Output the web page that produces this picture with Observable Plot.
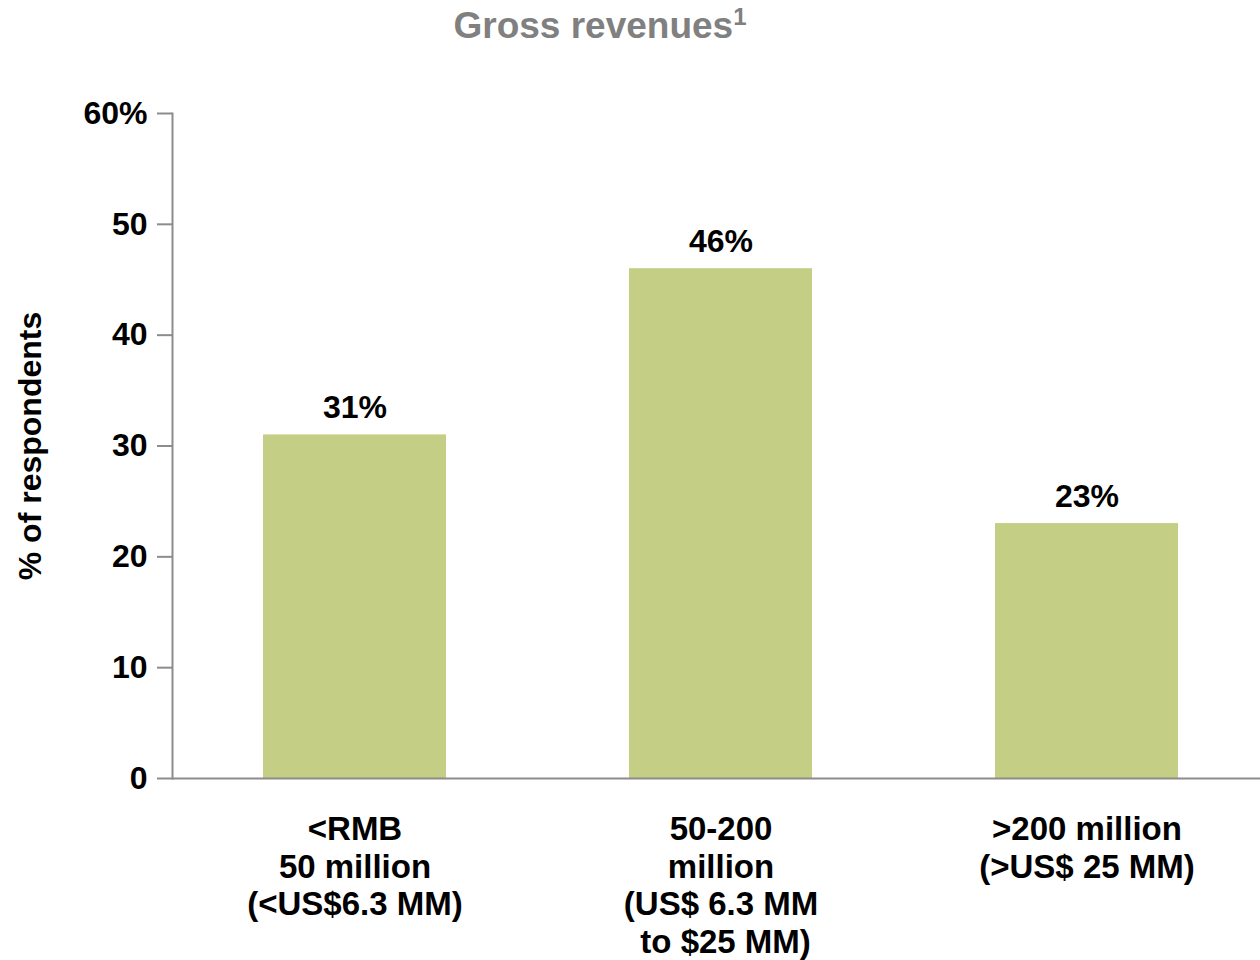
<!DOCTYPE html>
<html>
<head>
<meta charset="utf-8">
<script src="https://cdn.jsdelivr.net/npm/d3@7"></script>
<script src="https://cdn.jsdelivr.net/npm/@observablehq/plot@0.6"></script>
<style>
  html, body { margin: 0; padding: 0; background: #fff; }
  body { width: 1260px; height: 960px; overflow: hidden; font-family: "Liberation Sans", Arial, sans-serif; }
  #title { height: 60px; width: 1200px; text-align: center; font-weight: bold; font-size: 37px; color: #808080; line-height: 52px; }
  #title sup { font-size: 24px; vertical-align: 13px; line-height: 0; }
</style>
</head>
<body>
<div id="title">Gross revenues<sup>1</sup></div>
<div id="chart"></div>
<script>
const categories = [
  "<RMB\n50 million\n(<US$6.3 MM)",
  "50-200\nmillion\n(US$ 6.3 MM\n to $25 MM)",
  ">200 million\n(>US$ 25 MM)"
];
const values = [31, 46, 23];
const yTicks = [0, 10, 20, 30, 40, 50, 60];
const yTickLabels = ["0", "10", "20", "30", "40", "50", "60%"];
const valueLabels = ["31%", "46%", "23%"];

const data = categories.map((c, i) => ({cat: c, value: values[i], label: valueLabels[i]}));

const chart = Plot.plot({
  width: 1260,
  height: 900,
  marginTop: 53,
  marginBottom: 182,
  marginLeft: 172,
  marginRight: 0,
  style: {fontFamily: "'Liberation Sans', Arial, sans-serif", fontWeight: "bold", fontSize: "32px", color: "#000", background: "#fff", overflow: "visible"},
  x: {domain: categories, range: [172, 1268], padding: 0.5, paddingOuter: 0.247, label: null},
  y: {domain: [0, 60], label: null},
  marks: [
    Plot.barY(data, {x: "cat", y: "value", fill: "#c5ce85"}),
    Plot.text(data, {x: "cat", y: "value", text: "label", dy: -17, lineAnchor: "bottom", fontSize: 32, fontWeight: "bold", fill: "#000"}),
    Plot.ruleY([0], {stroke: "#8c8c8c", strokeWidth: 2}),
    Plot.frame({anchor: "left", stroke: "#8c8c8c", strokeWidth: 2}),
    Plot.axisY({ticks: yTicks, tickSize: 15, tickPadding: 10, stroke: "#8c8c8c", strokeWidth: 2,
      tickFormat: (d) => yTickLabels[yTicks.indexOf(d)], fontSize: 32, fontWeight: "bold", fill: "#000",
      label: "% of respondents", labelAnchor: "center", labelArrow: "none", labelOffset: 154}),
    Plot.axisX({tickSize: 0, tickPadding: 35, lineAnchor: "top", lineHeight: 1.14, fontSize: 33, fontWeight: "bold", fill: "#000", label: null})
  ]
});
document.getElementById("chart").appendChild(chart);
</script>
</body>
</html>
